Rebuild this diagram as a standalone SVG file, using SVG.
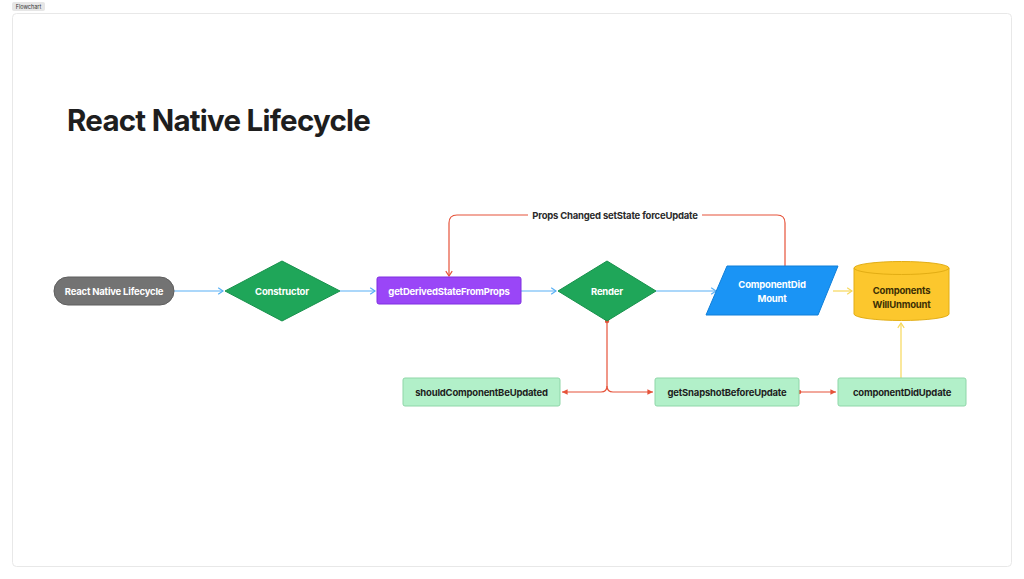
<svg xmlns="http://www.w3.org/2000/svg" width="1024" height="579" viewBox="0 0 1024 579">
<defs>
<style>
.t{font-family:Inter,"Noto Sans","Liberation Sans",sans-serif;font-weight:700;font-size:9.5px;text-anchor:middle;dominant-baseline:central;letter-spacing:-0.2px}
.w{fill:#ffffff}
.d{fill:#1e1e1e}
.blue{stroke:#58b0f5;stroke-width:1.2;fill:none}
.red{stroke:#e6533a;stroke-width:1.2;fill:none}
.yel{stroke:#f7d85a;stroke-width:1.2;fill:none}
.green{fill:#b2f0c9;stroke:#8fd6a8;stroke-width:1}
</style>
<marker id="ab" viewBox="0 0 10 10" refX="9" refY="5" markerWidth="8" markerHeight="8" markerUnits="userSpaceOnUse" orient="auto"><path d="M3,1 L9,5 L3,9" fill="none" stroke="#58b0f5" stroke-width="1.5"/></marker>
<marker id="ay" viewBox="0 0 10 10" refX="9" refY="5" markerWidth="8" markerHeight="8" markerUnits="userSpaceOnUse" orient="auto"><path d="M3,1 L9,5 L3,9" fill="none" stroke="#f7d85a" stroke-width="1.5"/></marker>
<marker id="ar" viewBox="0 0 10 10" refX="9" refY="5" markerWidth="8" markerHeight="8" markerUnits="userSpaceOnUse" orient="auto"><path d="M3,1 L9,5 L3,9" fill="none" stroke="#e6533a" stroke-width="1.5"/></marker>
<marker id="tr" viewBox="0 0 10 10" refX="9" refY="5" markerWidth="7" markerHeight="7" markerUnits="userSpaceOnUse" orient="auto"><path d="M1,1 L9,5 L1,9 Z" fill="#e6533a"/></marker>
<marker id="dot" viewBox="0 0 10 10" refX="5" refY="5" markerWidth="5" markerHeight="5" markerUnits="userSpaceOnUse"><circle cx="5" cy="5" r="4.5" fill="#e6533a"/></marker>
</defs>
<rect width="1024" height="579" fill="#ffffff"/>
<rect x="12.5" y="13.5" width="999" height="553" rx="4" fill="#ffffff" stroke="#e8e8e8" stroke-width="1"/>
<rect x="12" y="2" width="33" height="9" rx="2" fill="#e6e6e6"/>
<text x="28.5" y="6.6" style="font-family:Inter,'Liberation Sans',sans-serif;font-size:5.5px;text-anchor:middle;dominant-baseline:central;fill:#333">Flowchart</text>
<text x="67" y="131" style="font-family:Inter,'Liberation Sans',sans-serif;font-weight:700;font-size:29.5px;fill:#1e1e1e;letter-spacing:-0.75px">React Native Lifecycle</text>

<g id="connectors">
<path class="blue" d="M174,291 L223,291" marker-end="url(#ab)"/>
<path class="blue" d="M340,291 L375,291" marker-end="url(#ab)"/>
<path class="blue" d="M521,291 L556,291" marker-end="url(#ab)"/>
<path class="blue" d="M656,291 L716,291" marker-end="url(#ab)"/>
<path class="yel" d="M833,291 L852,291" marker-end="url(#ay)"/>
<path class="yel" d="M901,378 L901,323" marker-end="url(#ay)"/>
<path class="red" d="M785,266 L785,223 Q785,215 777,215 L457,215 Q449,215 449,223 L449,276" marker-end="url(#ar)"/>
<path class="red" d="M607,321 L607,386 Q607,392 601,392 L562,392" marker-start="url(#dot)" marker-end="url(#tr)"/>
<path class="red" d="M607,386 Q607,392 613,392 L653,392" marker-end="url(#tr)"/>
<path class="red" d="M799,392 L836,392" marker-start="url(#dot)" marker-end="url(#tr)"/>
<rect x="528" y="208" width="174" height="14" fill="#ffffff"/>
<text class="t" x="615" y="215" style="fill:#2b2b2b">Props Changed setState forceUpdate</text>
</g>

<g id="start">
<rect x="54" y="277" width="120" height="28" rx="14" fill="#737373" stroke="#5e5e5e" stroke-width="1"/>
<text class="t w" x="114" y="291">React Native Lifecycle</text>
</g>
<g id="constructor">
<polygon points="282,261 340,291 282,321 225,291" fill="#1fa659" stroke="#17914c" stroke-width="1"/>
<text class="t w" x="282" y="291">Constructor</text>
</g>
<g id="getDerived">
<rect x="377" y="277" width="144" height="27" rx="2" fill="#9a46f7" stroke="#7f2fe0" stroke-width="1"/>
<text class="t w" x="449" y="291">getDerivedStateFromProps</text>
</g>
<g id="render">
<polygon points="607,261 656,291 607,321 558,291" fill="#1fa659" stroke="#17914c" stroke-width="1"/>
<text class="t w" x="607" y="291">Render</text>
</g>
<g id="didMount">
<polygon points="727,266 838,266 818,315 706,315" fill="#1a94f5" stroke="#0f7fd9" stroke-width="1" stroke-linejoin="round"/>
<text class="t w" x="772" y="284">ComponentDid</text>
<text class="t w" x="772" y="298">Mount</text>
</g>
<g id="willUnmount">
<path d="M854,268 L854,314 A47.5,6.5 0 0 0 949,314 L949,268 Z" fill="#fcc72d" stroke="#e2ad14" stroke-width="1"/>
<ellipse cx="901.5" cy="268" rx="47.5" ry="6.5" fill="#fcc72d" stroke="#e2ad14" stroke-width="1"/>
<text class="t" x="901.5" y="290" style="fill:#3b2f05">Components</text>
<text class="t" x="901.5" y="304" style="fill:#3b2f05">WillUnmount</text>
</g>
<g id="shouldUpdate">
<rect class="green" x="403" y="378" width="157" height="28" rx="2"/>
<text class="t d" x="481.5" y="392">shouldComponentBeUpdated</text>
</g>
<g id="getSnapshot">
<rect class="green" x="655" y="378" width="144" height="28" rx="2"/>
<text class="t d" x="727" y="392">getSnapshotBeforeUpdate</text>
</g>
<g id="didUpdate">
<rect class="green" x="838" y="378" width="128" height="28" rx="2"/>
<text class="t d" x="902" y="392">componentDidUpdate</text>
</g>
</svg>
